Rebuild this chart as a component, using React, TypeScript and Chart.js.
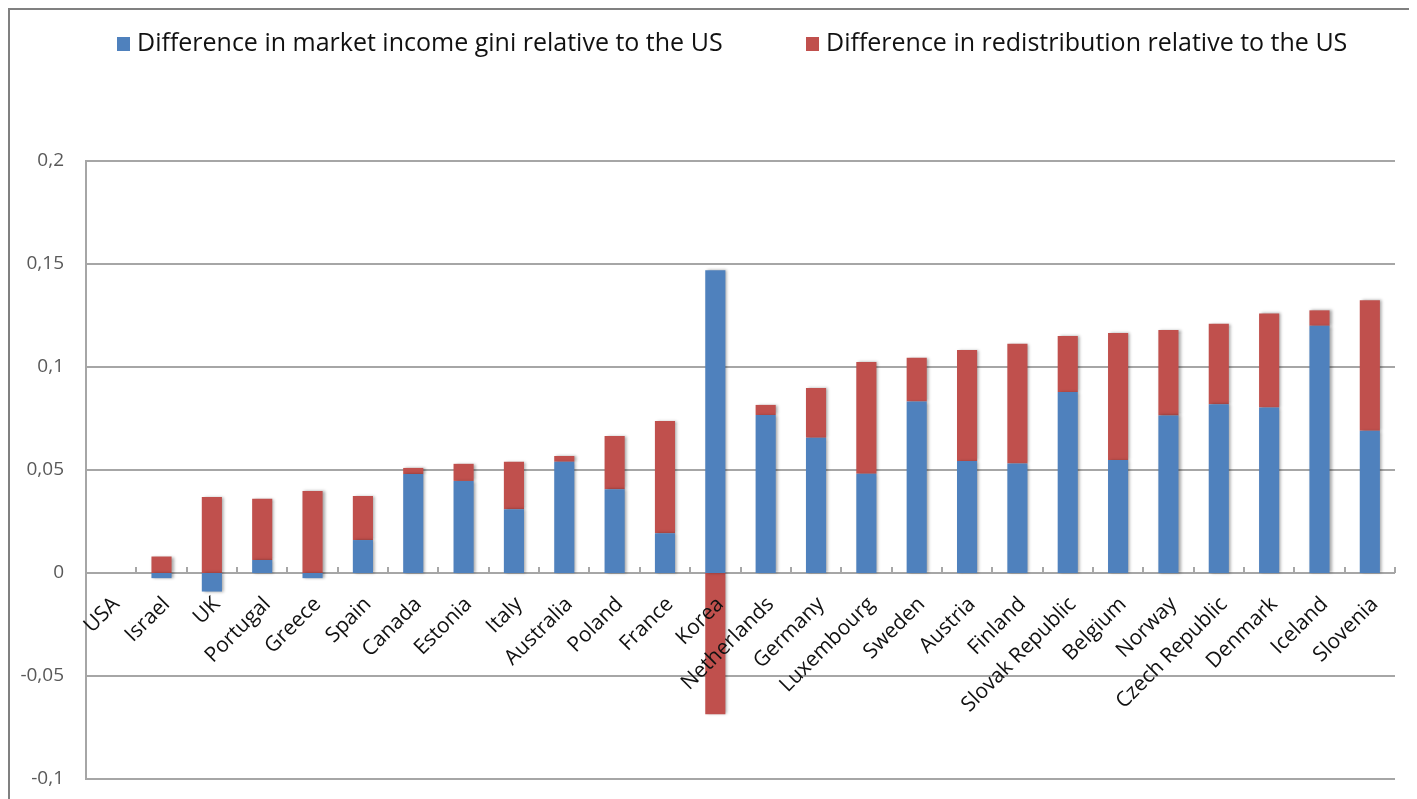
import React, { useEffect, useRef } from "react";
import { Chart, registerables } from "chart.js";

Chart.register(...registerables);

const countries = [
  "USA", "Israel", "UK", "Portugal", "Greece", "Spain", "Canada", "Estonia", "Italy",
  "Australia", "Poland", "France", "Korea", "Netherlands", "Germany", "Luxembourg",
  "Sweden", "Austria", "Finland", "Slovak Republic", "Belgium", "Norway",
  "Czech Republic", "Denmark", "Iceland", "Slovenia",
];

const marketIncomeDiff = [
  0, -0.0025, -0.009, 0.0063, -0.0025, 0.016, 0.048, 0.0447, 0.031,
  0.054, 0.0406, 0.0193, 0.147, 0.0767, 0.0657, 0.0482,
  0.0832, 0.0544, 0.0531, 0.0879, 0.0549, 0.0765,
  0.0819, 0.0803, 0.12, 0.069,
];

const redistributionDiff = [
  0, 0.008, 0.0369, 0.0297, 0.0398, 0.0214, 0.003, 0.0083, 0.023,
  0.0028, 0.0259, 0.0545, -0.0686, 0.0049, 0.0241, 0.0542,
  0.0213, 0.0539, 0.0582, 0.0271, 0.0616, 0.0415,
  0.0391, 0.0457, 0.0075, 0.0634,
];

const seriesNames = [
  "Difference in market income gini relative to the US",
  "Difference in redistribution relative to the US",
];

const seriesColors = ["#4F81BD", "#C0504D"];

const yMin = -0.1;
const yMax = 0.2;
const yStep = 0.05;

const formatTick = (v: number) => {
  const r = Math.round(v * 100) / 100;
  return String(r).replace(".", ",");
};

const legendPlugin = {
  id: "topLegend",
  afterDraw(chart: any) {
    const ctx = chart.ctx;
    const xs = [109, 798];
    ctx.save();
    ctx.font = "25px 'Open Sans'";
    ctx.textBaseline = "middle";
    ctx.textAlign = "left";
    chart.data.datasets.forEach((ds: any, i: number) => {
      ctx.fillStyle = ds.backgroundColor;
      ctx.fillRect(xs[i], 29, 13, 14);
      ctx.fillStyle = "#111";
      ctx.fillText(ds.label, xs[i] + 20, 36);
    });
    ctx.restore();
  },
};

const shadowPlugin = {
  id: "barShadow",
  beforeDatasetsDraw(chart: any) {
    const c = chart.ctx;
    c.save();
    c.shadowColor = "rgba(0,0,0,0.35)";
    c.shadowBlur = 3;
    c.shadowOffsetX = 2;
    c.shadowOffsetY = 0;
  },
  afterDatasetsDraw(chart: any) {
    chart.ctx.restore();
  },
};

const zeroPad = (s: any) => {
  s.paddingTop = 0;
  s.paddingBottom = 0;
  s.paddingLeft = 0;
  s.paddingRight = 0;
};

export default function App() {
  const ref = useRef<HTMLCanvasElement | null>(null);

  useEffect(() => {
    if (!ref.current) return;
    const chart = new Chart(ref.current, {
      type: "bar",
      data: {
        labels: countries,
        datasets: [
          {
            label: seriesNames[0],
            data: marketIncomeDiff,
            backgroundColor: seriesColors[0],
            xAxisID: "x",
            yAxisID: "y",
          },
          {
            label: seriesNames[1],
            data: redistributionDiff,
            backgroundColor: seriesColors[1],
            xAxisID: "x",
            yAxisID: "y",
          },
        ],
      },
      options: {
        responsive: false,
        animation: false,
        layout: { padding: { top: 153, left: 0, right: 22, bottom: 20 } },
        datasets: {
          bar: { barPercentage: 0.4, categoryPercentage: 1.0, borderWidth: 0 },
        },
        plugins: {
          legend: { display: false },
          tooltip: { enabled: false },
          title: { display: false },
        },
        scales: {
          x: {
            stacked: true,
            position: { y: 0 } as any,
            offset: true,
            afterFit: zeroPad,
            grid: {
              display: true,
              drawOnChartArea: false,
              drawTicks: true,
              tickLength: -6,
              color: "#a6a6a6",
              lineWidth: 2,
              offset: true,
            },
            border: { display: false },
            ticks: {
              z: 1,
              autoSkip: false,
              maxRotation: 45,
              minRotation: 45,
              padding: 25,
              labelOffset: 5,
              color: "#111",
              font: { family: "'Open Sans'", size: 21 },
            },
          },
          y: {
            stacked: true,
            position: "left",
            min: yMin,
            max: yMax,
            afterFit: (s: any) => {
              s.width = 78;
              zeroPad(s);
            },
            grid: {
              color: "#a6a6a6",
              lineWidth: 2,
              drawTicks: false,
            },
            border: { display: true, color: "#a6a6a6", width: 2 },
            ticks: {
              stepSize: yStep,
              padding: 22,
              color: "#595959",
              font: { family: "'Open Sans'", size: 19 },
              callback: (v: any) => formatTick(Number(v)),
            },
          },
        },
      },
      plugins: [shadowPlugin, legendPlugin],
    });
    return () => chart.destroy();
  }, []);

  return (
    <div style={{ position: "relative", width: 1409, height: 791, background: "#fff" }}>
      <canvas ref={ref} width={1409} height={791} style={{ display: "block" }} />
      <div
        style={{
          position: "absolute",
          left: 0,
          top: 0,
          width: "100%",
          height: "100%",
          boxSizing: "border-box",
          borderTop: "2px solid #808080",
          borderLeft: "2px solid #808080",
          pointerEvents: "none",
        }}
      />
    </div>
  );
}
